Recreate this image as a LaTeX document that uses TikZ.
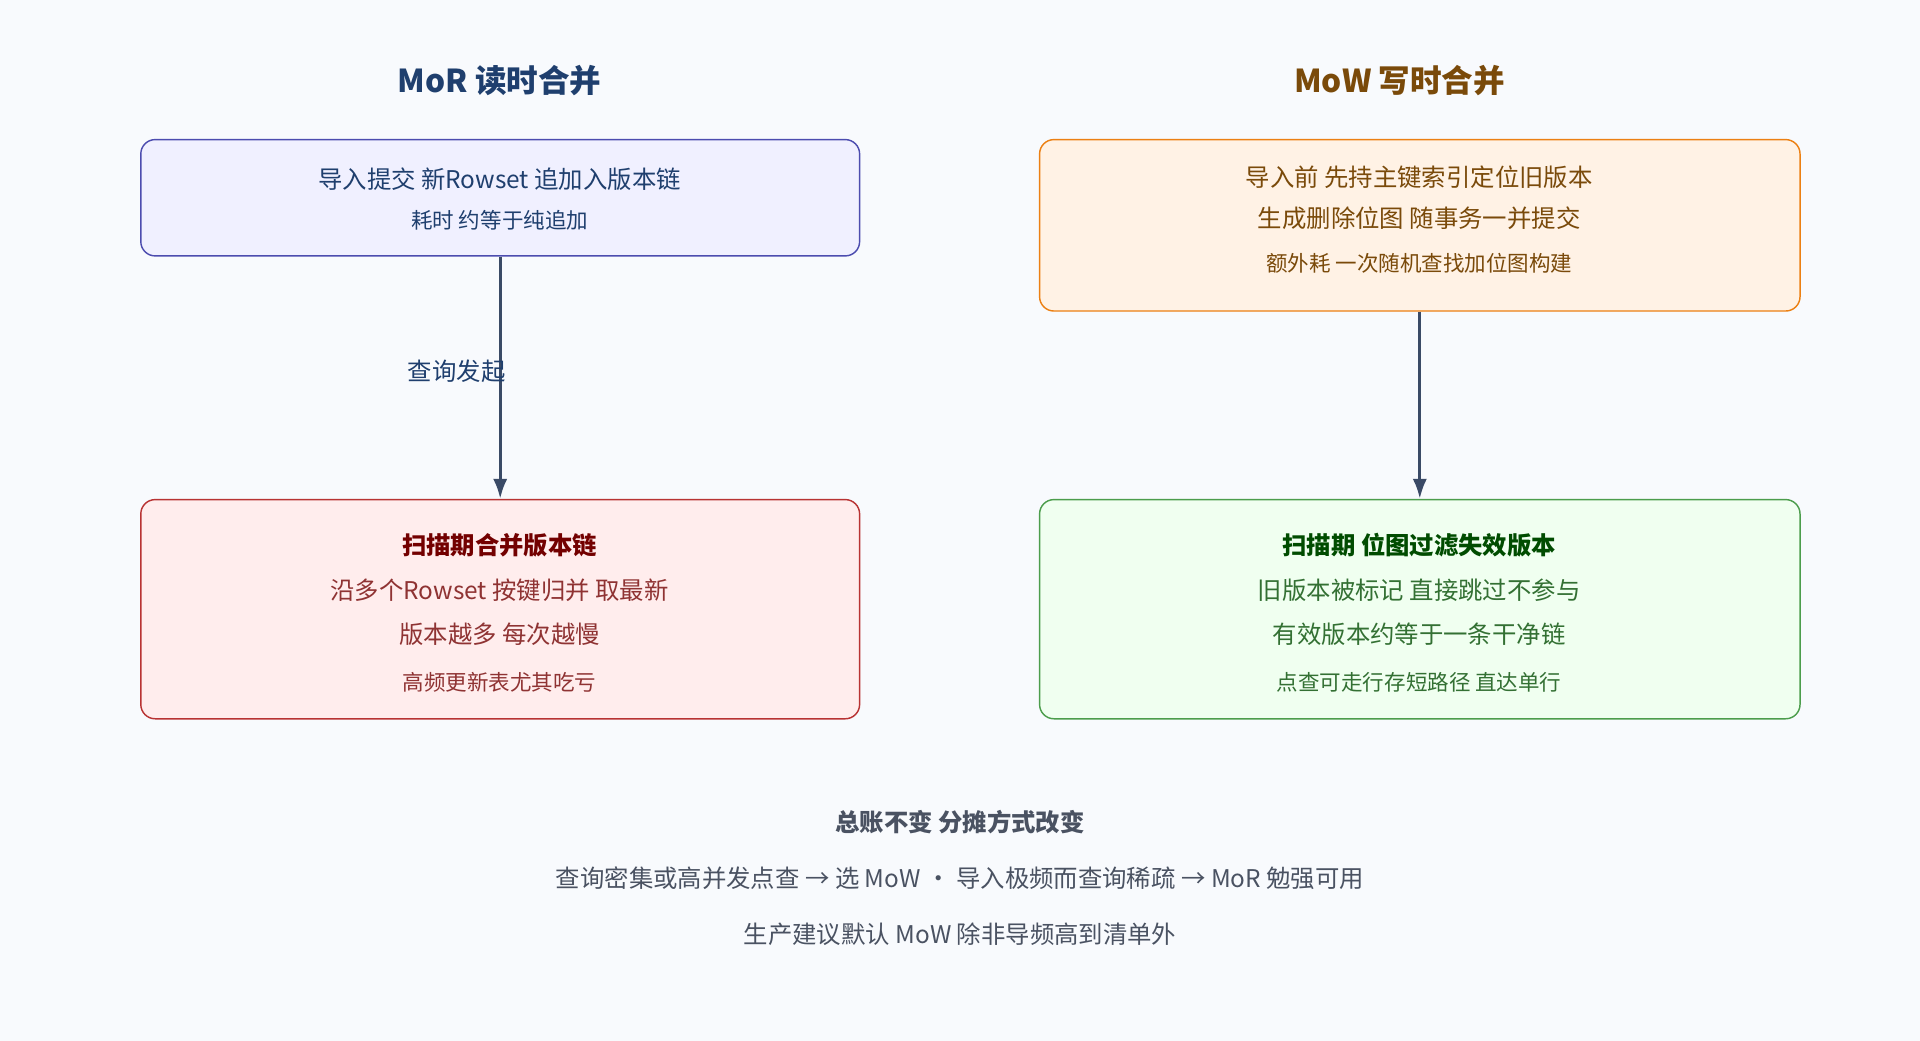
\documentclass[tikz,border=0pt]{standalone}
\usepackage{fontspec}
\setmainfont{Noto Sans CJK SC}
\usetikzlibrary{arrows.meta}
\definecolor{bgcol}{HTML}{F8FAFD}
\definecolor{morblue}{HTML}{1F3F6E}
\definecolor{mowbrown}{HTML}{7A4A0A}
\definecolor{arrowcol}{HTML}{3A4A66}
\definecolor{notecol}{HTML}{4A5262}

\tikzset{
  box/.style={draw, rounded corners=10pt, line width=1pt, inner sep=0pt},
  txt/.style={font=\fontsize{17}{20}\selectfont},
  small/.style={font=\fontsize{15}{18}\selectfont},
  head/.style={font=\fontsize{22}{26}\selectfont\bfseries},
  flow/.style={-{Latex[length=14pt,width=10pt]}, line width=2.2pt, draw=arrowcol}
}

\begin{document}
\begin{tikzpicture}[x=0.03cm,y=-0.03cm]
    \fill[bgcol] (0,0) rectangle (1568,850);
    \useasboundingbox (0,0) rectangle (1568,850);

    % Titles
    \node[head, text=morblue] (morTitle) at (408,66) {MoR 读时合并};
    \node[head, text=mowbrown] (mowTitle) at (1143,66) {MoW 写时合并};

    % MoR upper box
    \node[box, draw=blue!55!black!70, fill=blue!6, minimum width=17.61cm, minimum height=2.85cm] (morLoad) at (408.5,161.5) {};
    \node[txt, text=morblue] (morLoadA) at (408,146) {导入提交 新Rowset 追加入版本链};
    \node[small, text=morblue] (morLoadB) at (408,180) {耗时 约等于纯追加};

    % MoW upper box
    \node[box, draw=orange!70!brown, fill=orange!10, minimum width=18.63cm, minimum height=4.2cm] (mowLoad) at (1159.5,184) {};
    \node[txt, text=mowbrown] (mowLoadA) at (1159,145) {导入前 先持主键索引定位旧版本};
    \node[txt, text=mowbrown] (mowLoadB) at (1159,178) {生成删除位图 随事务一并提交};
    \node[small, text=mowbrown] (mowLoadC) at (1159,215) {额外耗 一次随机查找加位图构建};

    % MoR lower box
    \node[box, draw=red!65!black!80, fill=red!7, minimum width=17.61cm, minimum height=5.37cm] (morScan) at (408.5,497.5) {};
    \node[txt, text=red!45!black, font=\fontsize{17}{20}\selectfont\bfseries] (morScanA) at (408,445) {扫描期合并版本链};
    \node[txt, text=red!45!black!80] (morScanB) at (408,482) {沿多个Rowset 按键归并 取最新};
    \node[txt, text=red!45!black!80] (morScanC) at (408,518) {版本越多 每次越慢};
    \node[small, text=red!45!black!80] (morScanD) at (408,557) {高频更新表尤其吃亏};

    % MoW lower box
    \node[box, draw=green!45!black!70, fill=green!6, minimum width=18.63cm, minimum height=5.37cm] (mowScan) at (1159.5,497.5) {};
    \node[txt, text=green!30!black, font=\fontsize{17}{20}\selectfont\bfseries] (mowScanA) at (1159,445) {扫描期 位图过滤失效版本};
    \node[txt, text=green!30!black!80] (mowScanB) at (1159,482) {旧版本被标记 直接跳过不参与};
    \node[txt, text=green!30!black!80] (mowScanC) at (1159,518) {有效版本约等于一条干净链};
    \node[small, text=green!30!black!80] (mowScanD) at (1159,557) {点查可走行存短路径 直达单行};

    % Connectors
    \draw[flow] (morLoad.south) -- (morScan.north);
    \draw[flow] (mowLoad.south) -- (mowScan.north);
    \node[txt, text=morblue] (queryLbl) at (373,303) {查询发起};

    % Summary
    \node[txt, text=notecol, font=\fontsize{17}{20}\selectfont\bfseries] (sumA) at (784,671) {总账不变 分摊方式改变};
    \node[txt, text=notecol] (sumB) at (784,717) {查询密集或高并发点查 → 选 MoW · 导入极频而查询稀疏 → MoR 勉强可用};
    \node[txt, text=notecol] (sumC) at (784,763) {生产建议默认 MoW 除非导频高到清单外};
\end{tikzpicture}
\end{document}
